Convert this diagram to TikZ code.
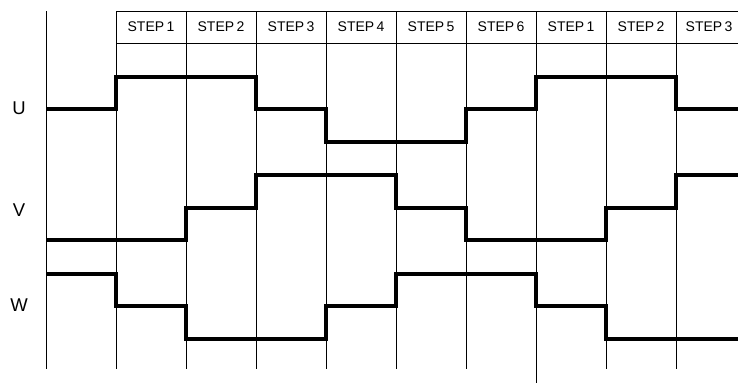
\documentclass[tikz,border=0pt]{standalone}
\usepackage{fontspec}
\setmainfont{Liberation Sans}
\begin{document}
\begin{tikzpicture}[x=1pt, y=-1pt,
    grid/.style={line width=0.9pt},
    wave/.style={line width=3.2pt, line join=miter},
    steplabel/.style={font=\fontsize{14}{16}\selectfont, inner sep=0pt},
    phase/.style={font=\fontsize{18.5}{20}\selectfont, inner sep=0pt}]
    \useasboundingbox (0,0) rectangle (738,383);

    % Header row
    \draw[grid] (116,11) -- (738,11);
    \draw[grid] (116,43) -- (738,43);

    % Left axis
    \draw[grid] (46,11) -- (46,369);

    % Step boundaries
    \draw[grid] (116,11) -- (116,369);
    \draw[grid] (186,11) -- (186,369);
    \draw[grid] (256,11) -- (256,369);
    \draw[grid] (326,11) -- (326,369);
    \draw[grid] (396,11) -- (396,369);
    \draw[grid] (466,11) -- (466,369);
    \draw[grid] (536,11) -- (536,383); % longer one
    \draw[grid] (606,11) -- (606,369);
    \draw[grid] (676,11) -- (676,369);

    % Step names
    \node[steplabel] (s1) at (151,27) {STEP\,1};
    \node[steplabel] (s2) at (221,27) {STEP\,2};
    \node[steplabel] (s3) at (291,27) {STEP\,3};
    \node[steplabel] (s4) at (361,27) {STEP\,4};
    \node[steplabel] (s5) at (431,27) {STEP\,5};
    \node[steplabel] (s6) at (501,27) {STEP\,6};
    \node[steplabel] (s7) at (571,27) {STEP\,1};
    \node[steplabel] (s8) at (641,27) {STEP\,2};
    \node[steplabel] (s9) at (709,27) {STEP\,3};

    % Phase names
    \node[phase] (u) at (19,108) {U};
    \node[phase] (v) at (19,210) {V};
    \node[phase] (w) at (19,305) {W};

    % Phase U
    \draw[wave] (46,109) -| (116,77) -| (256,109) -| (326,142) -| (466,109)
        -| (536,77) -| (676,109) -- (738,109);

    % Phase V
    \draw[wave] (46,240) -| (186,208) -| (256,175) -| (396,208) -| (466,240)
        -| (606,208) -| (676,175) -- (738,175);

    % Phase W
    \draw[wave] (46,274) -| (116,306) -| (186,339) -| (326,306) -| (396,274)
        -| (536,306) -| (606,339) -- (738,339);
\end{tikzpicture}
\end{document}
